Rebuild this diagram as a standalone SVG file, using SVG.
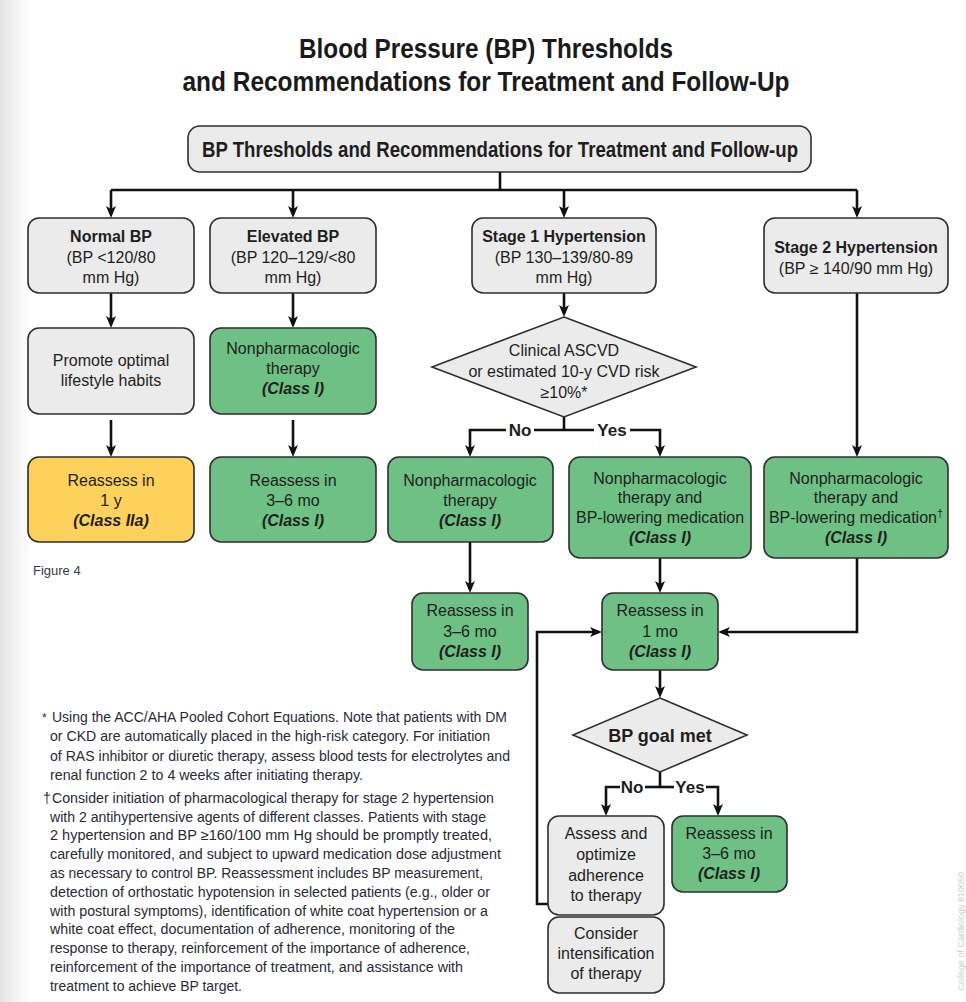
<svg xmlns="http://www.w3.org/2000/svg" width="966" height="1002" viewBox="0 0 966 1002">
<defs>
<linearGradient id="edge" x1="0" y1="0" x2="1" y2="0">
<stop offset="0" stop-color="#e4e4e4"/>
<stop offset="1" stop-color="#ffffff"/>
</linearGradient>
<marker id="ah" markerUnits="userSpaceOnUse" markerWidth="12" markerHeight="12" viewBox="0 0 12 12" refX="8" refY="6" orient="auto">
<path d="M0,1 L12,6 L0,11 L3,6 z" fill="#111"/>
</marker>
<style>
.box{stroke:#2e2e2e;stroke-width:1.6}
.gray{fill:#ebebeb}
.green{fill:#6fc084}
.yellow{fill:#fdd25c}
text{font-family:'Liberation Sans',Arial,sans-serif}
.t{font-size:16px;fill:#1e1e1e;text-anchor:middle}
.b{font-weight:bold}
.ci{font-weight:bold;font-style:italic}
.title{font-size:27px;font-weight:bold;fill:#1a1a1a;text-anchor:middle}
.lbl{font-size:17px;font-weight:bold;fill:#1e1e1e;text-anchor:middle}
.fn{font-size:14px;fill:#2a2a35}
.conn path{fill:none;stroke:#111;stroke-width:2.6}
.arr{marker-end:url(#ah)}
</style>
</defs>
<rect x="0" y="0" width="966" height="1002" fill="#ffffff"/>
<rect x="0" y="0" width="30" height="1002" fill="url(#edge)"/>

<g id="title">
<text class="title" x="486" y="58" textLength="374" lengthAdjust="spacingAndGlyphs">Blood Pressure (BP) Thresholds</text>
<text class="title" x="486" y="91" textLength="607" lengthAdjust="spacingAndGlyphs">and Recommendations for Treatment and Follow-Up</text>
</g>

<g class="conn" id="connectors">
<path d="M500,172 V190"/>
<path d="M111,190 H857"/>
<path class="arr" d="M111,190 V214"/>
<path class="arr" d="M293,190 V214"/>
<path class="arr" d="M564,190 V214"/>
<path class="arr" d="M857,190 V214"/>
<path class="arr" d="M111,293 V324"/>
<path class="arr" d="M293,293 V324"/>
<path class="arr" d="M111,420 V453"/>
<path class="arr" d="M293,420 V453"/>
<path class="arr" d="M564,293 V313"/>
<path d="M564,417 V430"/>
<path class="arr" d="M506,430 H470 V453"/>
<path d="M534,430 H594"/>
<path class="arr" d="M630,430 H660 V453"/>
<path class="arr" d="M857,293 V453"/>
<path class="arr" d="M470,542 V589"/>
<path class="arr" d="M660,558 V589"/>
<path class="arr" d="M857,558 V632 H722"/>
<path class="arr" d="M548,904 H537 V632 H598"/>
<path class="arr" d="M660,670 V694"/>
<path d="M660,772 V787"/>
<path class="arr" d="M620,787 H606 V812"/>
<path d="M645,787 H674"/>
<path class="arr" d="M706,787 H718 V812"/>
<text class="lbl" x="520" y="436">No</text>
<text class="lbl" x="612" y="436">Yes</text>
<text class="lbl" x="632" y="793">No</text>
<text class="lbl" x="690" y="793">Yes</text>
</g>

<g id="n-top">
<rect class="box gray" x="188" y="126" width="623" height="46" rx="12"/>
<text class="t b" x="500" y="157" font-size="22" style="font-size:22px" textLength="596" lengthAdjust="spacingAndGlyphs">BP Thresholds and Recommendations for Treatment and Follow-up</text>
</g>

<g id="n-normal">
<rect class="box gray" x="28" y="218" width="166" height="75" rx="11"/>
<text class="t b" x="111" y="242">Normal BP</text>
<text class="t" x="111" y="263">(BP &lt;120/80</text>
<text class="t" x="111" y="283">mm Hg)</text>
</g>

<g id="n-elevated">
<rect class="box gray" x="210" y="218" width="166" height="75" rx="11"/>
<text class="t b" x="293" y="242">Elevated BP</text>
<text class="t" x="293" y="263">(BP 120–129/&lt;80</text>
<text class="t" x="293" y="283">mm Hg)</text>
</g>

<g id="n-stage1">
<rect class="box gray" x="472" y="218" width="184" height="75" rx="11"/>
<text class="t b" x="564" y="242">Stage 1 Hypertension</text>
<text class="t" x="564" y="263">(BP 130–139/80-89</text>
<text class="t" x="564" y="283">mm Hg)</text>
</g>

<g id="n-stage2">
<rect class="box gray" x="764" y="218" width="184" height="75" rx="11"/>
<text class="t b" x="856" y="253">Stage 2 Hypertension</text>
<text class="t" x="856" y="274">(BP ≥ 140/90 mm Hg)</text>
</g>

<g id="n-promote">
<rect class="box gray" x="28" y="328" width="166" height="86" rx="11"/>
<text class="t" x="111" y="366">Promote optimal</text>
<text class="t" x="111" y="386">lifestyle habits</text>
</g>

<g id="n-nonpharm-elevated">
<rect class="box green" x="210" y="328" width="166" height="86" rx="11"/>
<text class="t" x="293" y="354">Nonpharmacologic</text>
<text class="t" x="293" y="374">therapy</text>
<text class="t ci" x="293" y="394">(Class I)</text>
</g>

<g id="n-reassess-1y">
<rect class="box yellow" x="28" y="457" width="166" height="85" rx="11"/>
<text class="t" x="111" y="486">Reassess in</text>
<text class="t" x="111" y="506">1 y</text>
<text class="t ci" x="111" y="526">(Class IIa)</text>
</g>

<g id="n-reassess-elevated">
<rect class="box green" x="210" y="457" width="166" height="85" rx="11"/>
<text class="t" x="293" y="486">Reassess in</text>
<text class="t" x="293" y="506">3–6 mo</text>
<text class="t ci" x="293" y="526">(Class I)</text>
</g>

<g id="n-ascvd">
<polygon class="box gray" points="564,317 696,367 564,417 432,367"/>
<text class="t" x="564" y="356">Clinical ASCVD</text>
<text class="t" x="564" y="377">or estimated 10-y CVD risk</text>
<text class="t" x="564" y="398">≥10%*</text>
</g>

<g id="n-nonpharm-no">
<rect class="box green" x="388" y="457" width="165" height="85" rx="11"/>
<text class="t" x="470" y="486">Nonpharmacologic</text>
<text class="t" x="470" y="506">therapy</text>
<text class="t ci" x="470" y="526">(Class I)</text>
</g>

<g id="n-nonpharm-yes">
<rect class="box green" x="569" y="457" width="182" height="101" rx="11"/>
<text class="t" x="660" y="484">Nonpharmacologic</text>
<text class="t" x="660" y="503">therapy and</text>
<text class="t" x="660" y="523">BP-lowering medication</text>
<text class="t ci" x="660" y="543">(Class I)</text>
</g>

<g id="n-nonpharm-stage2">
<rect class="box green" x="764" y="457" width="184" height="101" rx="11"/>
<text class="t" x="856" y="484">Nonpharmacologic</text>
<text class="t" x="856" y="503">therapy and</text>
<text class="t" x="856" y="523">BP-lowering medication<tspan font-size="11" dy="-6">†</tspan></text>
<text class="t ci" x="856" y="543">(Class I)</text>
</g>

<g id="n-reassess-no">
<rect class="box green" x="412" y="593" width="116" height="77" rx="11"/>
<text class="t" x="470" y="616">Reassess in</text>
<text class="t" x="470" y="637">3–6 mo</text>
<text class="t ci" x="470" y="657">(Class I)</text>
</g>

<g id="n-reassess-1mo">
<rect class="box green" x="602" y="593" width="116" height="77" rx="11"/>
<text class="t" x="660" y="616">Reassess in</text>
<text class="t" x="660" y="637">1 mo</text>
<text class="t ci" x="660" y="657">(Class I)</text>
</g>

<g id="n-goal">
<polygon class="box gray" points="660,698 747,735 660,772 573,735"/>
<text class="t b" x="660" y="742" style="font-size:18px">BP goal met</text>
</g>

<g id="n-assess">
<rect class="box gray" x="548" y="816" width="116" height="99" rx="11"/>
<text class="t" x="606" y="839">Assess and</text>
<text class="t" x="606" y="860">optimize</text>
<text class="t" x="606" y="881">adherence</text>
<text class="t" x="606" y="901">to therapy</text>
</g>

<g id="n-consider">
<rect class="box gray" x="548" y="917" width="116" height="76" rx="11"/>
<text class="t" x="606" y="939">Consider</text>
<text class="t" x="606" y="959">intensification</text>
<text class="t" x="606" y="979">of therapy</text>
</g>

<g id="n-reassess-yes">
<rect class="box green" x="672" y="816" width="115" height="76" rx="11"/>
<text class="t" x="729" y="839">Reassess in</text>
<text class="t" x="729" y="859">3–6 mo</text>
<text class="t ci" x="729" y="879">(Class I)</text>
</g>

<text x="33" y="575" style="font-size:13px;fill:#3a3a50">Figure 4</text>

<g id="footnotes" class="fn">
<text x="42" y="722" style="font-size:12px">*</text>
<text x="52" y="722" textLength="455" lengthAdjust="spacingAndGlyphs">Using the ACC/AHA Pooled Cohort Equations. Note that patients with DM</text>
<text x="50" y="741" textLength="440" lengthAdjust="spacingAndGlyphs">or CKD are automatically placed in the high-risk category. For initiation</text>
<text x="50" y="761" textLength="460" lengthAdjust="spacingAndGlyphs">of RAS inhibitor or diuretic therapy, assess blood tests for electrolytes and</text>
<text x="50" y="780" textLength="313" lengthAdjust="spacingAndGlyphs">renal function 2 to 4 weeks after initiating therapy.</text>
<text x="43" y="803">†</text>
<text x="52" y="803" textLength="442" lengthAdjust="spacingAndGlyphs">Consider initiation of pharmacological therapy for stage 2 hypertension</text>
<text x="50" y="822" textLength="436" lengthAdjust="spacingAndGlyphs">with 2 antihypertensive agents of different classes. Patients with stage</text>
<text x="50" y="840" textLength="442" lengthAdjust="spacingAndGlyphs">2 hypertension and BP ≥160/100 mm Hg should be promptly treated,</text>
<text x="50" y="859" textLength="451" lengthAdjust="spacingAndGlyphs">carefully monitored, and subject to upward medication dose adjustment</text>
<text x="50" y="878" textLength="433" lengthAdjust="spacingAndGlyphs">as necessary to control BP. Reassessment includes BP measurement,</text>
<text x="50" y="897" textLength="440" lengthAdjust="spacingAndGlyphs">detection of orthostatic hypotension in selected patients (e.g., older or</text>
<text x="50" y="916" textLength="438" lengthAdjust="spacingAndGlyphs">with postural symptoms), identification of white coat hypertension or a</text>
<text x="50" y="934" textLength="405" lengthAdjust="spacingAndGlyphs">white coat effect, documentation of adherence, monitoring of the</text>
<text x="50" y="953" textLength="420" lengthAdjust="spacingAndGlyphs">response to therapy, reinforcement of the importance of adherence,</text>
<text x="50" y="972" textLength="413" lengthAdjust="spacingAndGlyphs">reinforcement of the importance of treatment, and assistance with</text>
<text x="50" y="991" textLength="192" lengthAdjust="spacingAndGlyphs">treatment to achieve BP target.</text>
</g>

<text transform="translate(964,872) rotate(-90)" style="font-size:9px;fill:#cfcfcf;text-anchor:end">College of Cardiology 810050</text>
</svg>
